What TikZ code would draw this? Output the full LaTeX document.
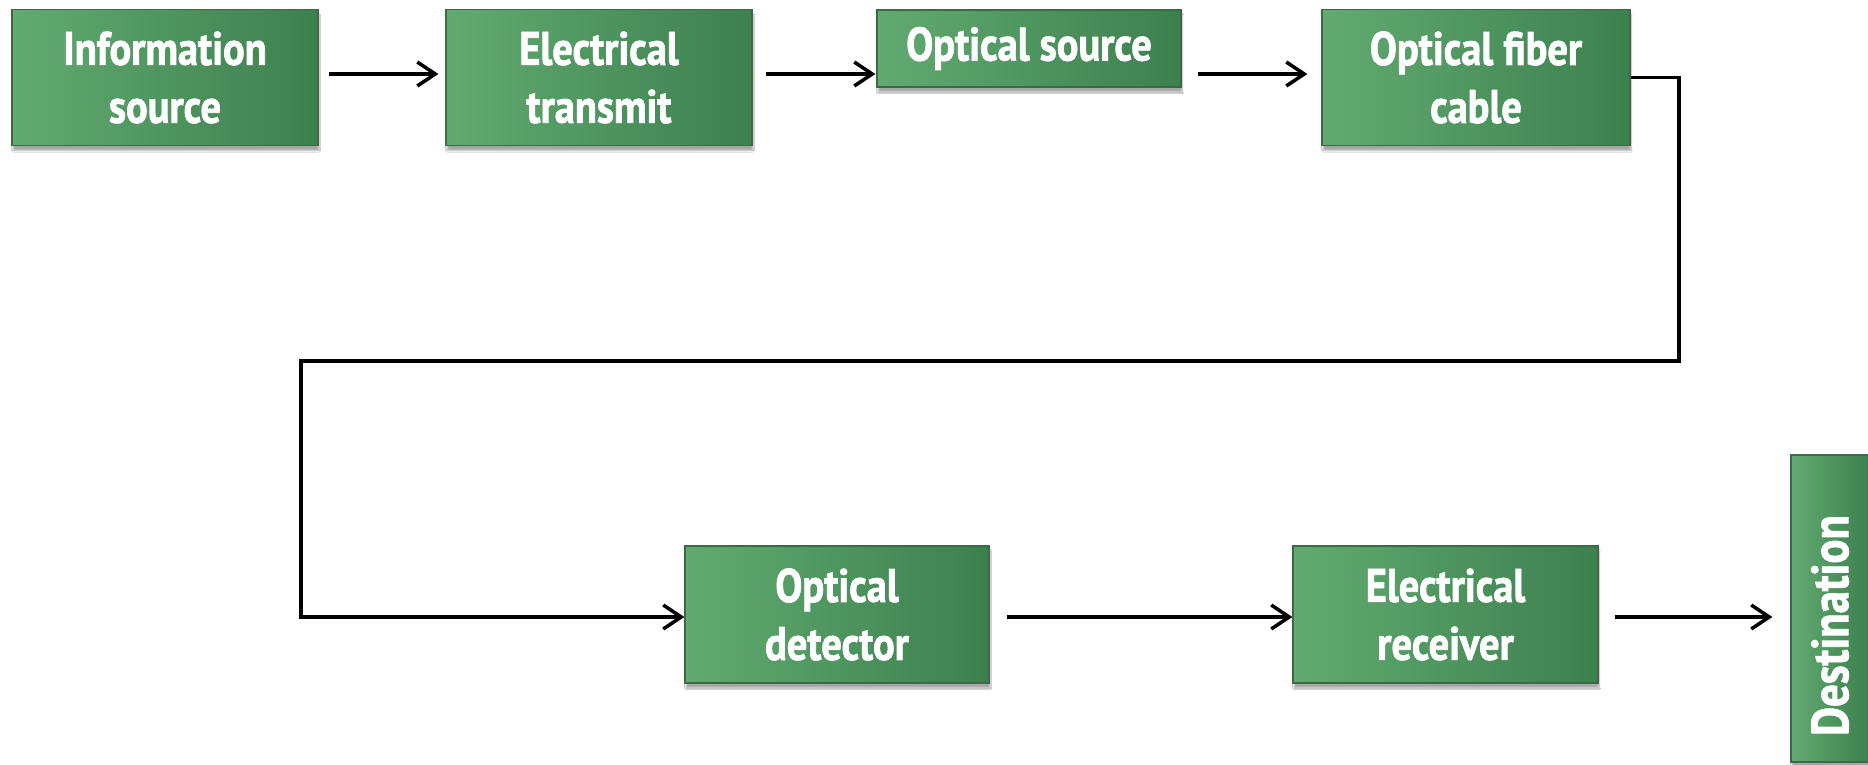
\documentclass[tikz,border=0pt]{standalone}
\usepackage{fontspec}
\newfontfamily\lblfont{PT Sans}[FakeStretch=0.86,FakeBold=1.5]
\usetikzlibrary{arrows.meta,shadows.blur}
\definecolor{boxL}{RGB}{98,170,114}
\definecolor{boxR}{RGB}{60,128,78}
\definecolor{boxB}{RGB}{62,105,72}
\begin{document}
\begin{tikzpicture}[x=1pt,y=-1pt,
  box/.style={draw=boxB, line width=1.2pt, left color=boxL, right color=boxR,
    text=white, font=\lblfont\bfseries\fontsize{47}{58}\selectfont, align=center,
    inner sep=0pt,
    blur shadow={shadow xshift=1pt, shadow yshift=-5pt, shadow blur steps=6, shadow opacity=35}},
  conn/.style={line width=3.5pt, -{Straight Barb[length=18pt,width=24pt]}}]
\useasboundingbox (0,0) rectangle (1868,765);
\fill[white] (0,0) rectangle (1868,765);
\coordinate (rowA) at (0,74);
\coordinate (rowB) at (0,617);
\node[box, minimum width=306pt, minimum height=136pt] (n1) at (165,77.5) {Information\\source};
\node[box, minimum width=306pt, minimum height=136pt] (n2) at (599,77.5) {Electrical\\transmit};
\node[box, minimum width=304pt, minimum height=77pt] (n3) at (1029,48.5) {Optical source};
\node[box, minimum width=308pt, minimum height=136pt] (n4) at (1476,77.5) {Optical fiber\\cable};
\node[box, minimum width=304pt, minimum height=137pt] (n5) at (837,614.5) {Optical\\detector};
\node[box, minimum width=305pt, minimum height=137pt] (n6) at (1445.5,614.5) {Electrical\\receiver};
\node[box, minimum width=307pt, minimum height=78pt, rotate=90,
  font=\lblfont\bfseries\fontsize{52}{60}\selectfont] (n7) at (1830,608.5) {Destination\hspace*{34pt}};
\coordinate (c1) at (1679,361);
\coordinate (c2) at (301,361);
\draw[conn, shorten <=10pt, shorten >=7pt] (n1.east |- rowA) -- (n2.west |- rowA);
\draw[conn, shorten <=13pt, shorten >=1pt] (n2.east |- rowA) -- (n3.west |- rowA);
\draw[conn, shorten <=16pt, shorten >=14pt] (n3.east |- rowA) -- (n4.west |- rowA);
\draw[conn, line join=miter] (n4.east) -| (c1) -- (c2) |- (n5.west |- rowB);
\draw[conn, shorten <=17pt] (n5.east |- rowB) -- (n6.west |- rowB);
\draw[conn, shorten <=16pt, shorten >=18pt] (n6.east |- rowB) -- (n7.north |- rowB);
\end{tikzpicture}
\end{document}
